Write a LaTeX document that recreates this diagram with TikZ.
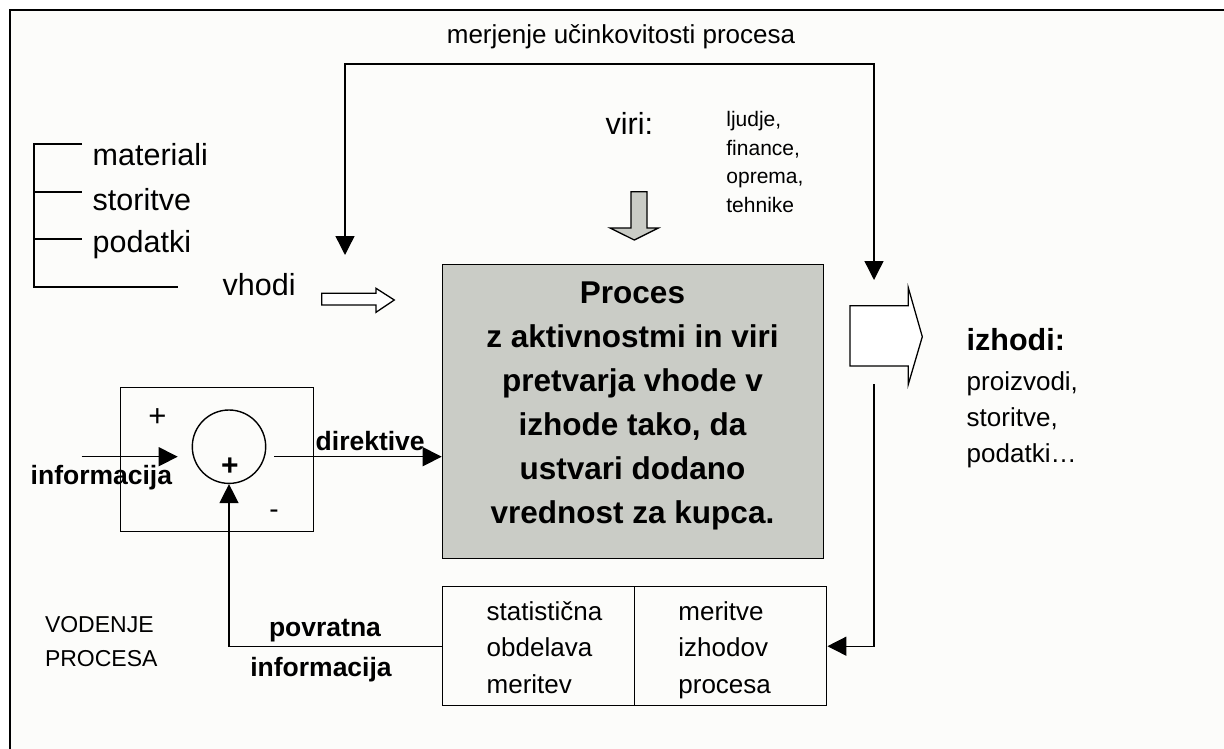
\documentclass[tikz,border=0pt]{standalone}
\usepackage{fontspec}
\setmainfont{Liberation Sans}
\usetikzlibrary{arrows.meta}
\definecolor{procgray}{RGB}{202,204,198}
\definecolor{paper}{RGB}{252,252,250}

\begin{document}
\begin{tikzpicture}[x=1pt,y=-1pt,
  line width=1.4pt,
  tip/.style={-{Triangle[length=19pt,width=19pt]}},
  twotips/.style={{Triangle[length=19pt,width=19pt]}-{Triangle[length=19pt,width=19pt]}},
  txt/.style={anchor=base west, inner sep=0pt},
  ctxt/.style={anchor=base, inner sep=0pt},
  big/.style={font=\fontsize{30.5}{36}\selectfont},
  mid/.style={font=\fontsize{26}{32}\selectfont},
  small/.style={font=\fontsize{21}{26}\selectfont},
  bigb/.style={font=\fontsize{31.5}{38}\selectfont\bfseries},
  midb/.style={font=\fontsize{26.5}{32}\selectfont\bfseries},
  cell/.style={draw, anchor=north west, inner sep=0pt},
  blockarrow/.style={draw, line width=1.3pt, line join=miter}
]
\useasboundingbox (0,0) rectangle (1224,749);
\fill[white] (0,0) rectangle (1224,749);
\fill[paper] (10,10) rectangle (1224,749);
% outer frame (only top and left edges lie inside the page)
\draw[line width=2.2pt] (10,749) -- (10,10) -- (1224,10);

% ---- inputs bracket ----
\coordinate (brT) at (34,144);
\coordinate (brB) at (34,287);
\draw (82,144) -- (brT) -- (brB) -- (178,287);
\draw (34,192) -- (82,192);
\draw (34,239) -- (82,239);
\node[txt,big] (tMat) at (92,166) {materiali};
\node[txt,big] (tSto) at (92,210) {storitve};
\node[txt,big] (tPod) at (92,252) {podatki};
\node[txt,big] (tVho) at (222,295) {vhodi};

% hollow input arrow
\draw[blockarrow, fill=white] (321.7,293.3) -- (376,293.3) -- (376,288.3) -- (394.3,300)
  -- (376,312.3) -- (376,305) -- (321.7,305) -- cycle;

% ---- resources ----
\node[txt,big] (tViri) at (605,135) {viri:};
\node[txt,small] (r1) at (725.7,127) {ljudje,};
\node[txt,small] (r2) at (725.7,155.5) {finance,};
\node[txt,small] (r3) at (725.7,184) {oprema,};
\node[txt,small] (r4) at (725.7,212.5) {tehnike};
\draw[blockarrow, fill=procgray] (631,191.7) -- (647,191.7) -- (647,228) -- (658.3,228)
  -- (634.3,240) -- (610,228) -- (631,228) -- cycle;

% ---- process ----
\node[draw, fill=procgray, minimum width=381pt, minimum height=294pt,
      anchor=north west, inner sep=0pt] (proc) at (441.7,264) {};
\node[ctxt,bigb] (p1) at (632.5,303) {Proces};
\node[ctxt,bigb] (p2) at (632.5,347) {z aktivnostmi in viri};
\node[ctxt,bigb] (p3) at (632.5,391) {pretvarja vhode v};
\node[ctxt,bigb] (p4) at (632.5,435) {izhode tako, da};
\node[ctxt,bigb] (p5) at (632.5,479) {ustvari dodano};
\node[ctxt,bigb] (p6) at (632.5,523) {vrednost za kupca.};

% ---- outputs ----
\draw[blockarrow, fill=white] (850,305.7) -- (908.3,305.7) -- (908.3,287.7) -- (922.3,336.7)
  -- (908.3,384.3) -- (908.3,366) -- (850,366) -- cycle;
\node[txt,font=\fontsize{30.5}{36}\selectfont\bfseries] (tIzh) at (966,350) {izhodi:};
\node[txt,mid] (o1) at (966,390) {proizvodi,};
\node[txt,mid] (o2) at (966,426) {storitve,};
\node[txt,mid] (o3) at (966,462) {podatki…};

% ---- efficiency measurement loop ----
\coordinate (loopA) at (345,255);
\coordinate (loopTop) at (345,64);
\coordinate (loopB) at (874,280);
\draw[twotips] (loopA) -- (loopTop) -| (loopB);
\node[ctxt,font=\fontsize{26}{32}\selectfont] (tMer) at (621,44) {merjenje učinkovitosti procesa};

% ---- measurement boxes ----
\node[cell, minimum width=192.3pt, minimum height=119pt] (measL) at (441.7,586) {};
\node[cell, minimum width=192pt, minimum height=119pt] (measR) at (634,586) {};
\node[txt,mid] (m1) at (486,620) {statistična};
\node[txt,mid] (m2) at (486,656.7) {obdelava};
\node[txt,mid] (m3) at (486,693.3) {meritev};
\node[txt,mid] (m4) at (677.7,620) {meritve};
\node[txt,mid] (m5) at (677.7,656.7) {izhodov};
\node[txt,mid] (m6) at (677.7,693.3) {procesa};

\coordinate (outDrop) at (874,384);
\draw[tip] (outDrop) |- (measR.east);

% ---- process control ----
\node[cell, minimum width=192.7pt, minimum height=144pt] (ctrl) at (120,386.7) {};
\node[draw, circle, minimum size=73.4pt, inner sep=0pt] (sum) at (229,446.7) {};
\node[ctxt,font=\fontsize{31}{36}\selectfont] (plusA) at (157.5,426) {+};
\node[ctxt,font=\fontsize{30}{36}\selectfont\bfseries] (plusB) at (230,475) {+};
\node[ctxt,font=\fontsize{28}{36}\selectfont] (minus) at (274,518) {-};

\coordinate (infoIn) at (81.7,456.7);
\coordinate (infoTip) at (177.7,456.7);
\draw[tip] (infoIn) -- (infoTip);
\node[txt,midb] (tInf) at (30,484) {informacija};

\coordinate (sumOut) at (274,456.7);
\draw[tip] (sumOut) -- (sumOut -| proc.west);
\node[txt,midb] (tDir) at (315,450) {direktive};

\draw[tip] (measL.west) -| (sum.south);
\node[ctxt,midb] (tPov) at (325,636) {povratna};
\node[ctxt,midb] (tPovI) at (321,676.7) {informacija};

\node[txt,font=\fontsize{23}{28}\selectfont] (tVod) at (44.3,632.7) {VODENJE};
\node[txt,font=\fontsize{23}{28}\selectfont] (tVodP) at (44.3,666.7) {PROCESA};
\end{tikzpicture}
\end{document}
